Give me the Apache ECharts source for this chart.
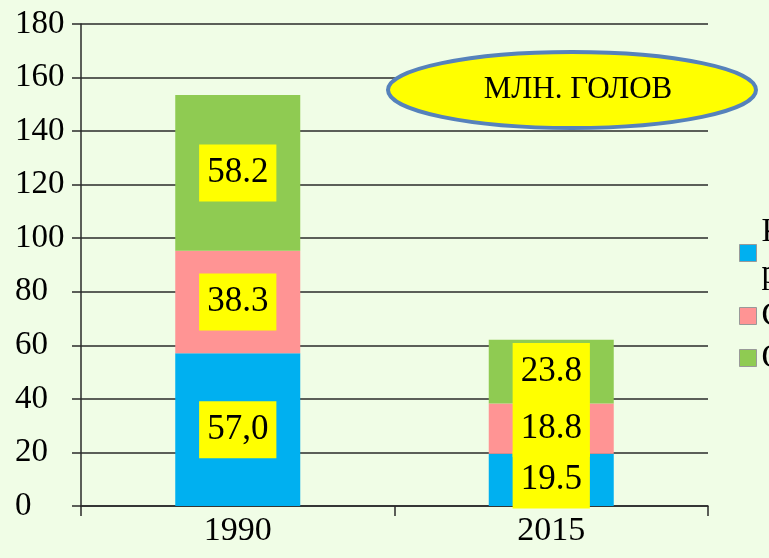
<!DOCTYPE html>
<html><head><meta charset="utf-8">
<script src="https://cdn.jsdelivr.net/npm/echarts@6/dist/echarts.min.js"></script>
<style>html,body{margin:0;padding:0;background:#f0fde6;}#c{width:769px;height:558px;}</style>
</head><body><div id="c"></div>
<script>
const categories = ['1990', '2015'];
const seriesNames = ['Крупный\nрогатый скот', 'Свиньи', 'Овцы и козы'];
const cattle = [57.0, 19.5];
const pigs = [38.3, 18.8];
const sheep = [58.2, 23.8];
const cattleLabels = ['57,0', '19.5'];
const pigsLabels = ['38.3', '18.8'];
const sheepLabels = ['58.2', '23.8'];
const yTicks = [0, 20, 40, 60, 80, 100, 120, 140, 160, 180];
const unitText = 'МЛН. ГОЛОВ';

const colors = ['#00b0f0', '#ff9494', '#8fcb52'];
const serif = 'Liberation Serif';
const chart = echarts.init(document.getElementById('c'), null, {renderer: 'canvas'});

function mk(name, data, labels, color) {
  return {
    name: name, type: 'bar', stack: 'total', barWidth: 125, data: data,
    itemStyle: {color: color},
    label: {
      show: true, position: 'inside',
      formatter: p => labels[p.dataIndex],
      color: '#000', fontFamily: serif, fontSize: 35,
      backgroundColor: '#ffff00', padding: [11, 8, 11, 8]
    }
  };
}

chart.setOption({
  backgroundColor: '#f0fde6',
  animation: false,
  color: colors,
  grid: {left: 81, right: 61, top: 24, bottom: 52, containLabel: false},
  legend: {
    orient: 'vertical', left: 734, top: 206, itemGap: 0,
    itemWidth: 17, itemHeight: 17, icon: 'rect',
    itemStyle: {borderColor: '#999', borderWidth: 1},
    textStyle: {fontFamily: serif, fontSize: 33, lineHeight: 42, color: '#000'},
    data: seriesNames
  },
  xAxis: {
    type: 'category', data: categories,
    axisLine: {lineStyle: {color: '#2a2a2a', width: 1.5}},
    axisTick: {show: true, length: 10, lineStyle: {color: '#2a2a2a', width: 1.5}},
    axisLabel: {fontFamily: serif, fontSize: 34, color: '#000', margin: 8}
  },
  yAxis: {
    type: 'value', min: yTicks[0], max: yTicks[yTicks.length - 1], interval: 20,
    axisLine: {show: true, lineStyle: {color: '#2a2a2a', width: 1.5}},
    axisTick: {show: true, length: 9, lineStyle: {color: '#2a2a2a', width: 1.5}},
    splitLine: {lineStyle: {color: '#2a2a2a', width: 1.5}},
    axisLabel: {fontFamily: serif, fontSize: 33, color: '#000', align: 'left', margin: 66}
  },
  graphic: [{
    type: 'group', left: 386, top: 50, z: 100,
    children: [
      {type: 'ellipse', z: 100, shape: {cx: 186, cy: 40, rx: 184, ry: 38},
       style: {fill: '#ffff00', stroke: '#5682bb', lineWidth: 4}},
      {type: 'text', z: 101, x: 192, y: 40,
       style: {text: unitText, fill: '#000', fontFamily: serif, fontSize: 31, align: 'center', verticalAlign: 'middle'}}
    ]
  }],
  series: [
    mk(seriesNames[0], cattle, cattleLabels, colors[0]),
    mk(seriesNames[1], pigs, pigsLabels, colors[1]),
    mk(seriesNames[2], sheep, sheepLabels, colors[2])
  ]
});
</script></body></html>
